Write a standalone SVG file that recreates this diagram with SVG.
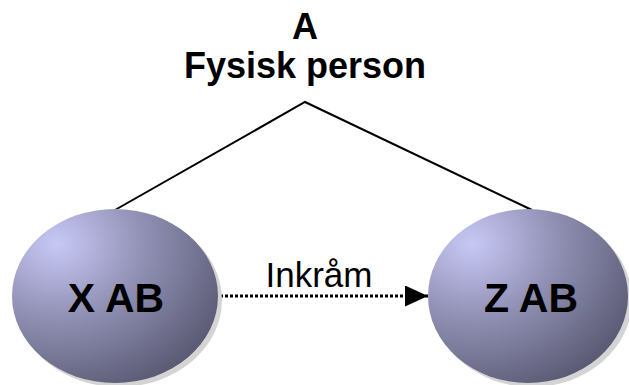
<svg xmlns="http://www.w3.org/2000/svg" width="629" height="385" viewBox="0 0 629 385">
  <defs>
    <radialGradient id="ballFill" cx="0.22" cy="0.2" r="0.95" fx="0.22" fy="0.2">
      <stop offset="0" stop-color="#c8c8f6"/>
      <stop offset="0.45" stop-color="#9090b4"/>
      <stop offset="1" stop-color="#55556e"/>
    </radialGradient>
    <marker id="arrowHead" viewBox="0 0 23 21" refX="23" refY="10.5" markerUnits="userSpaceOnUse" markerWidth="23" markerHeight="21" orient="auto">
      <path d="M0,0 L23,10.5 L0,21 Z" fill="#000"/>
    </marker>
    <style>
      .shadow { fill: #d4d4d4; }
      .ball { fill: url(#ballFill); }
      .bold { font-family: "Liberation Sans", Arial, sans-serif; font-weight: bold; fill: #000; text-anchor: middle; }
      .plain { font-family: "Liberation Sans", Arial, sans-serif; fill: #000; text-anchor: middle; }
      .edge { stroke: #000; stroke-width: 2; fill: none; }
      .dotted { stroke: #000; stroke-width: 3; stroke-dasharray: 3 2; fill: none; }
    </style>
  </defs>

  <!-- title -->
  <g id="owner">
    <text class="bold" x="305" y="39" font-size="36">A</text>
    <text class="bold" x="305" y="78" font-size="36">Fysisk person</text>
  </g>

  <!-- connectors -->
  <g id="connectors">
    <polyline class="edge" points="115,210 305,102 532,210"/>
    <line class="dotted" x1="220" y1="296" x2="428" y2="296" marker-end="url(#arrowHead)"/>
    <text class="plain" x="319" y="287" font-size="35">Inkråm</text>
  </g>

  <g id="xab">
    <ellipse class="shadow" cx="119" cy="300" rx="103" ry="87"/>
    <ellipse class="ball" cx="115" cy="296" rx="103" ry="87"/>
    <text class="bold" x="116" y="312" font-size="41">X AB</text>
  </g>

  <g id="zab">
    <ellipse class="shadow" cx="532" cy="300" rx="100" ry="87"/>
    <ellipse class="ball" cx="528" cy="296" rx="100" ry="87"/>
    <text class="bold" x="531" y="312" font-size="41">Z AB</text>
  </g>
</svg>
